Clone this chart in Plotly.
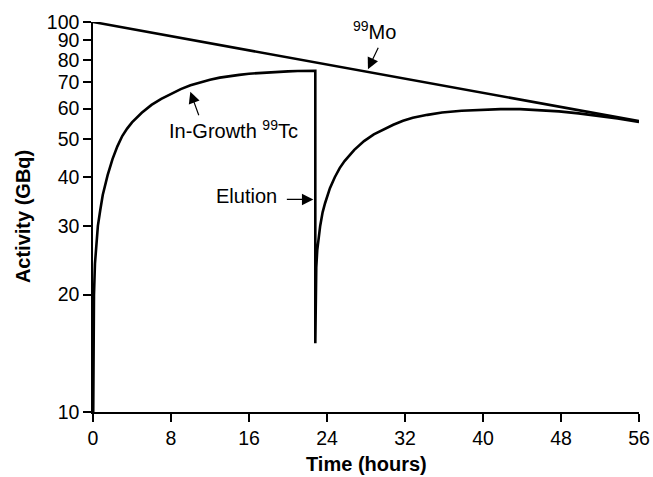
import plotly.graph_objects as go

# --- data ---
mo_time = [0, 56]
mo_activity = [100, 55.7]

tc_time = [0, 0.02, 0.05, 0.1, 0.2, 0.35, 0.5, 0.75, 1.0, 1.5, 2.0, 2.5, 3.0, 3.5, 4.0,
           5.0, 6.0, 7.0, 8.0, 9.0, 10, 11, 12, 13, 14, 15, 16, 17, 18, 19, 20, 21, 22.8,
           22.8,
           22.82, 22.85, 22.9, 23.0, 23.15, 23.3, 23.55, 23.8, 24.3, 24.8, 25.3, 25.8,
           26.8, 27.8, 28.8, 29.8, 30.8, 31.8, 32.8, 34.3, 35.8, 37.8, 39.8, 41.8,
           43.8, 45.8, 47.8, 49.8, 51.8, 53.8, 56.0]
tc_activity = [8, 12, 16, 20, 24, 27.5, 30, 33, 36, 40.5, 44.5, 48, 51, 53.3, 55.3,
               58.5, 61.3, 63.5, 65.5, 67.3, 68.8, 70.1, 71.1, 72, 72.7, 73.2, 73.7, 74, 74.3, 74.5, 74.7, 74.85, 75,
               15,
               18, 21, 23.5, 26, 28.3, 30, 32.5, 34.3, 37.5, 40, 42.2, 44,
               47, 49.5, 51.5, 53, 54.5, 55.8, 56.8, 57.8, 58.6, 59.2, 59.6, 59.8,
               59.8, 59.5, 59.0, 58.3, 57.5, 56.6, 55.4]

x_ticks = [0, 8, 16, 24, 32, 40, 48, 56]
y_ticks = [10, 20, 30, 40, 50, 60, 70, 80, 90, 100]

FONT = "Liberation Sans, Arial, Helvetica, sans-serif"

fig = go.Figure()
fig.add_trace(go.Scatter(x=mo_time, y=mo_activity, mode="lines",
                         line=dict(color="black", width=2.6), showlegend=False))
fig.add_trace(go.Scatter(x=tc_time, y=tc_activity, mode="lines",
                         line=dict(color="black", width=2.6), showlegend=False))

axis_common = dict(showline=True, linecolor="black", linewidth=1.5,
                   ticks="outside", ticklen=8, tickwidth=1.5, tickcolor="black",
                   showgrid=False, zeroline=False, mirror=False, automargin=False,
                   tickfont=dict(family=FONT, size=19.5, color="black"))

fig.update_xaxes(range=[0, 56], tickvals=x_ticks, ticktext=[str(v) for v in x_ticks],
                 **axis_common)
fig.update_yaxes(type="log", range=[1, 2], tickvals=y_ticks, ticktext=[str(v) for v in y_ticks],
                 **axis_common)

ann_font = dict(family=FONT, size=20, color="black")
title_font = dict(family=FONT, size=20, color="black")
arrow_style = dict(showarrow=True, arrowhead=2, arrowsize=1.9, arrowwidth=1.2,
                   arrowcolor="black", standoff=0, text="")
annotations = [
    # axis titles
    dict(x=0.5, y=-0.133, xref="paper", yref="paper", text="<b>Time (hours)</b>",
         showarrow=False, font=title_font, xanchor="center", yanchor="middle"),
    dict(x=-0.128, y=0.5, xref="paper", yref="paper", text="<b>Activity (GBq)</b>",
         showarrow=False, font=title_font, xanchor="center", yanchor="middle", textangle=-90),
    # 99Mo label and arrow
    dict(x=28.85, y=1.977, xref="x", yref="y", text="<sup>99</sup>Mo", showarrow=False,
         font=ann_font, xanchor="center", yanchor="middle"),
    dict(x=28.2, y=1.879, xref="x", yref="y", ax=11, ay=-23, **arrow_style),
    # In-Growth label and arrow
    dict(x=14.42, y=1.725, xref="x", yref="y", text="In-Growth <sup>99</sup>Tc", showarrow=False,
         font=ann_font, xanchor="center", yanchor="middle"),
    dict(x=9.98, y=1.821, xref="x", yref="y", ax=9, ay=25, **arrow_style),
    # Elution label and arrow
    dict(x=15.76, y=1.553, xref="x", yref="y", text="Elution", showarrow=False,
         font=ann_font, xanchor="center", yanchor="middle"),
    dict(x=22.6, y=1.545, xref="x", yref="y", ax=-28, ay=0, **arrow_style),
]

fig.update_layout(width=653, height=477, margin=dict(l=93, r=14, t=22, b=65),
                  paper_bgcolor="white", plot_bgcolor="white",
                  annotations=annotations, font=dict(family=FONT, color="black"))

fig.write_html("out.html", config={"displayModeBar": False},
               post_script="document.body.style.margin='0';document.body.style.overflow='hidden';")
